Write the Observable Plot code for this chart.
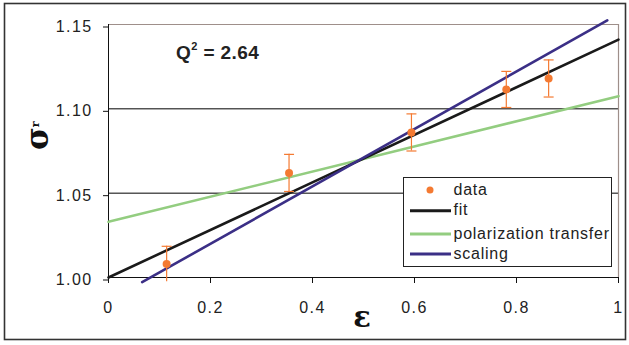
<!DOCTYPE html>
<html>
<head>
<meta charset="utf-8">
<script src="https://cdn.jsdelivr.net/npm/d3@7"></script>
<script src="https://cdn.jsdelivr.net/npm/@observablehq/plot@0.6"></script>
<style>
  html, body { margin: 0; padding: 0; background: #fff; }
  #chart svg { display: block; }
</style>
</head>
<body>
<div id="chart"></div>
<script>
// Data points (epsilon, sigma_r, error)
const eps    = [0.114, 0.354, 0.594, 0.780, 0.863];
const sigma  = [1.008, 1.062, 1.086, 1.1115, 1.118];
const errs   = [0.0105, 0.011, 0.011, 0.0107, 0.011];

// Line endpoints
const fitX = [0, 1],        fitY = [1.000, 1.141];
const ptX  = [0, 1],        ptY  = [1.033, 1.1075];
const scX  = [0.066, 0.978], scY = [0.9972, 1.1524];

const yTicks = [1.00, 1.05, 1.10, 1.15];
const xTicks = [0, 0.2, 0.4, 0.6, 0.8, 1];
const xTickLabels = ["0", "0.2", "0.4", "0.6", "0.8", "1"];
const legendLabels = ["data", "fit", "polarization transfer", "scaling"];
const qLabel = {base: "Q", sup: "2", rest: " = 2.64"};

const C = {data: "#f47a32", fit: "#1a1a1a", pt: "#93cd80", sc: "#3b2f86", border: "#9e8f8a"};

const points = eps.map((e, i) => ({e, s: sigma[i], lo: sigma[i] - errs[i], hi: sigma[i] + errs[i]}));
const mk = (xs, ys) => xs.map((x, i) => ({x, y: ys[i]}));

const capSymbol = {draw(ctx, size) { const w = Math.sqrt(size / Math.PI); ctx.moveTo(-w, 0); ctx.lineTo(w, 0); }};

const plot = Plot.plot({
  width: 629, height: 345,
  marginLeft: 108, marginRight: 11, marginTop: 24, marginBottom: 68,
  style: {fontFamily: "'Liberation Sans', Arial, sans-serif", background: "#fff"},
  x: {domain: [0, 1]},
  y: {domain: [1.0, 1.15]},
  marks: [
    Plot.ruleY([1.05, 1.10], {stroke: "#000", strokeWidth: 1}),
    Plot.ruleY([1.15], {stroke: C.border, strokeWidth: 1.2}),
    Plot.ruleX([1], {stroke: C.border, strokeWidth: 1.2}),
    Plot.ruleX([0], {stroke: "#111", strokeWidth: 1}),
    Plot.ruleY([1.0], {stroke: "#111", strokeWidth: 1}),
    Plot.axisY({ticks: yTicks, tickFormat: d3.format(".2f"), tickSize: 5, tickPadding: 11, fontSize: 16, dy: 2.5, stroke: "#111", strokeOpacity: 1, color: "#222", label: null}),
    Plot.axisX({ticks: xTicks, tickFormat: (d, i) => xTickLabels[xTicks.indexOf(d)], tickSize: 6, tickPadding: 18, fontSize: 16, stroke: "#111", strokeOpacity: 1, color: "#222", label: null}),
    Plot.line(mk(ptX, ptY), {x: "x", y: "y", stroke: C.pt, strokeWidth: 2.6}),
    Plot.line(mk(fitX, fitY), {x: "x", y: "y", stroke: C.fit, strokeWidth: 2.6}),
    Plot.line(mk(scX, scY), {x: "x", y: "y", stroke: C.sc, strokeWidth: 2.6}),
    Plot.ruleX(points, {x: "e", y1: "lo", y2: "hi", stroke: C.data, strokeWidth: 1.2}),
    Plot.dot(points, {x: "e", y: "hi", symbol: capSymbol, r: 5, stroke: C.data, strokeWidth: 1.2, fill: "none"}),
    Plot.dot(points.filter(d => d.lo >= 1.0), {x: "e", y: "lo", symbol: capSymbol, r: 5, stroke: C.data, strokeWidth: 1.2, fill: "none"}),
    Plot.dot(points, {x: "e", y: "s", r: 4, fill: C.data, stroke: "none"})
  ]
});

document.getElementById("chart").appendChild(plot);
const svg = d3.select(plot);
svg.selectAll("g[aria-label='y-axis tick label'] text, g[aria-label='x-axis tick label'] text").style("letter-spacing", "1.4px");

// Outer frame
svg.append("rect").attr("x", 4.5).attr("y", 3.5).attr("width", 621).attr("height", 336)
  .attr("fill", "none").attr("stroke", "#333").attr("stroke-width", 1.6);

// Q^2 annotation
const q = svg.append("text").attr("x", 176).attr("y", 59).attr("text-anchor", "start")
  .attr("font-family", "'Liberation Sans', Arial, sans-serif").attr("font-weight", "bold")
  .attr("font-size", 19).attr("fill", "#222").style("letter-spacing", "0.4px");
q.append("tspan").text(qLabel.base);
q.append("tspan").attr("font-size", 11).attr("dy", -9).text(qLabel.sup);
q.append("tspan").attr("dy", 9).text(qLabel.rest);

// Axis titles
const yt = svg.append("text").attr("transform", "translate(48,150) rotate(-90)").attr("text-anchor", "start")
  .attr("font-family", "'DejaVu Serif', serif").attr("font-weight", "bold").attr("fill", "#111");
yt.append("tspan").attr("font-size", 31).text("σ");
yt.append("tspan").attr("font-size", 11).attr("dy", -9).text("r");

svg.append("text").attr("x", 362).attr("y", 327).attr("text-anchor", "middle")
  .attr("font-family", "'DejaVu Serif', serif").attr("font-weight", "bold")
  .attr("font-size", 29).attr("fill", "#111").text("ε");

// Legend
const lg = svg.append("g").attr("text-anchor", "start");
lg.append("rect").attr("x", 403.5).attr("y", 177.5).attr("width", 208).attr("height", 89)
  .attr("fill", "#fff").attr("stroke", "#222").attr("stroke-width", 1);
lg.append("circle").attr("cx", 430).attr("cy", 190).attr("r", 3.5).attr("fill", C.data);
const sampleY = [null, 210.7, 234, 254];
const sampleC = [null, C.fit, C.pt, C.sc];
for (let i = 1; i < 4; i++) {
  lg.append("line").attr("x1", 410).attr("x2", 451).attr("y1", sampleY[i]).attr("y2", sampleY[i])
    .attr("stroke", sampleC[i]).attr("stroke-width", 3);
}
const textY = [194.5, 214.5, 238.5, 258.5];
legendLabels.forEach((t, i) => {
  lg.append("text").attr("x", 453.5).attr("y", textY[i]).attr("text-anchor", "start")
    .attr("font-family", "'Liberation Sans', Arial, sans-serif").attr("font-size", 16)
    .attr("fill", "#222").style("letter-spacing", "0.75px").text(t);
});
</script>
</body>
</html>
